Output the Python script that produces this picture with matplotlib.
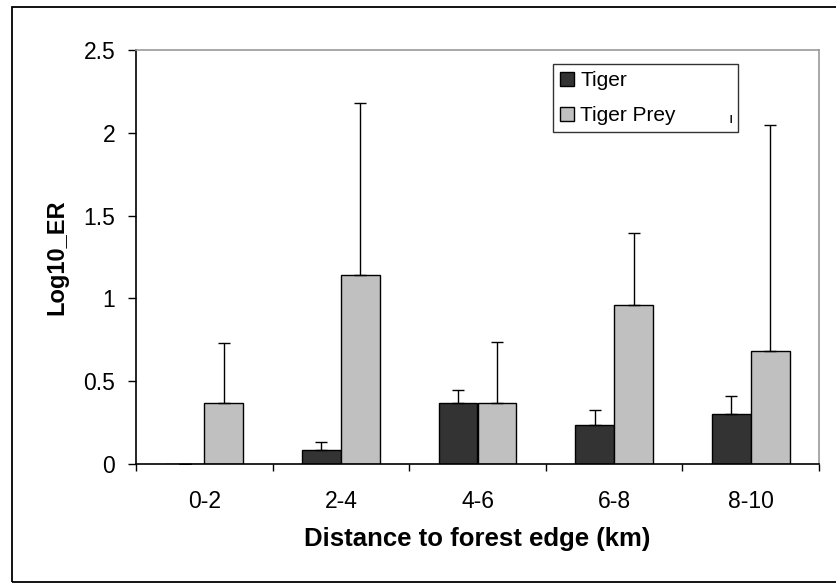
import matplotlib
matplotlib.use("Agg")
import matplotlib.pyplot as plt
from matplotlib.patches import Rectangle
import numpy as np

plt.rcParams['font.family'] = ['Liberation Sans', 'DejaVu Sans']

categories = ["0-2", "2-4", "4-6", "6-8", "8-10"]
tiger = [0.003, 0.085, 0.37, 0.235, 0.30]
tiger_err = [0.0, 0.045, 0.075, 0.09, 0.11]
prey = [0.37, 1.14, 0.37, 0.96, 0.68]
prey_err = [0.36, 1.04, 0.365, 0.435, 1.365]
yticks = [0, 0.5, 1, 1.5, 2, 2.5]
ytick_labels = ["0", "0.5", "1", "1.5", "2", "2.5"]

fig = plt.figure(figsize=(8.36, 5.83), dpi=100)
ax = fig.add_axes([136/836, 119/583, (819-136)/836, (464-50)/583])

x = np.arange(len(categories))
w = 0.285
err_kw = dict(ecolor='black', elinewidth=1.0, capsize=4, capthick=1.0)
ax.bar(x - w/2, tiger, w, color='#333333', edgecolor='black', linewidth=1.0,
       yerr=[np.zeros(len(tiger)), tiger_err], error_kw=err_kw, label='Tiger', zorder=2)
ax.bar(x + w/2, prey, w, color='#c0c0c0', edgecolor='black', linewidth=1.0,
       yerr=[np.zeros(len(prey)), prey_err], error_kw=err_kw, label='Tiger Prey', zorder=2)

ax.set_xlim(-0.5, len(categories) - 0.5)
ax.set_ylim(0, 2.5)
ax.set_yticks(yticks)
ax.set_yticklabels(ytick_labels)
ax.set_xticks(x)
ax.set_xticklabels(categories)
ax.set_xticks(np.arange(len(categories) + 1) - 0.5, minor=True)
ax.tick_params(axis='x', which='major', length=0, pad=19, labelsize=16.5)
ax.tick_params(axis='x', which='minor', length=5, width=1.0, direction='out')
ax.tick_params(axis='y', length=6, width=1.0, direction='out', pad=9, labelsize=16.5)

for s in ['top', 'right']:
    ax.spines[s].set_color('#999999')
    ax.spines[s].set_linewidth(1.2)
for s in ['left', 'bottom']:
    ax.spines[s].set_color('black')
    ax.spines[s].set_linewidth(1.2)

ax.set_xlabel("Distance to forest edge (km)", fontsize=18.5, fontweight='bold', labelpad=10)
ax.set_ylabel("Log10_ER", fontsize=17, fontweight='bold', labelpad=11)

bx0 = (553 - 136) / 683
bx1 = (738 - 136) / 683
by1 = (464 - 64) / 414
leg = ax.legend(loc='upper left', bbox_to_anchor=(bx0, by1 - 0.3, bx1 - bx0, 0.3),
                mode='expand', frameon=True, fancybox=False, fontsize=15,
                handlelength=0.65, handleheight=0.65, handletextpad=0.3,
                borderpad=0.35, labelspacing=0.75, borderaxespad=0)
leg.get_frame().set_edgecolor('black')
leg.get_frame().set_linewidth(1.0)

fig.text(731/836, 1 - 119/583, "ı", fontsize=11, ha='center', va='center')

fig.patches.append(Rectangle((11.5/836, 1.3/583), 1.0, (581.7-7.3)/583,
                             transform=fig.transFigure, fill=False,
                             edgecolor='black', linewidth=1.3))

fig.savefig("out.png", dpi=100)
